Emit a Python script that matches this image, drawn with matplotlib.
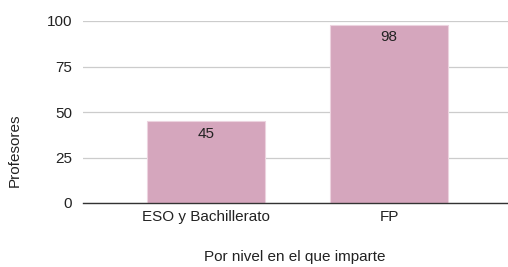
import matplotlib
matplotlib.use("Agg")
import matplotlib.pyplot as plt

categories = ["ESO y Bachillerato", "FP"]
values = [45, 98]
yticks = [0, 25, 50, 75, 100]

plt.rcParams['font.family'] = ['Liberation Sans', 'DejaVu Sans']

fig = plt.figure(figsize=(5.08, 2.67), dpi=100)
ax = fig.add_axes([83/508, 1-203/267, (508-83)/508, (203-21)/267])

x = list(range(len(categories)))
bars = ax.bar(x, values, width=0.645, color="#d5a6bd", edgecolor="#ecd3df", linewidth=0.8, zorder=3)
for b, v in zip(bars, values):
    ax.text(b.get_x() + b.get_width()/2, v - 3, str(v), ha="center", va="top",
            fontsize=11, color="#222222", zorder=4)

ax.set_xlim(-0.672, 1.65)
ax.set_ylim(0, 100)
ax.set_yticks(yticks)
ax.set_yticklabels([str(t) for t in yticks], fontsize=11, color="#222222")
ax.set_xticks(x)
ax.set_xticklabels(categories, fontsize=11, color="#222222")
ax.tick_params(length=0, pad=8)
ax.tick_params(axis="x", pad=5)
ax.yaxis.grid(True, color="#cccccc", linewidth=0.9, zorder=0)
ax.set_axisbelow(True)
for s in ["top", "right", "left"]:
    ax.spines[s].set_visible(False)
ax.spines["bottom"].set_color("#333333")
ax.spines["bottom"].set_linewidth(1.0)
ax.spines["bottom"].set_zorder(5)

fig.text(15/508, 1-150/267, "Profesores", rotation=90, ha="center", va="center", fontsize=11, color="#222222")
fig.text(295/508, 1-257/267, "Por nivel en el que imparte", ha="center", va="center", fontsize=11, color="#222222")

fig.savefig("out.png", dpi=100)
